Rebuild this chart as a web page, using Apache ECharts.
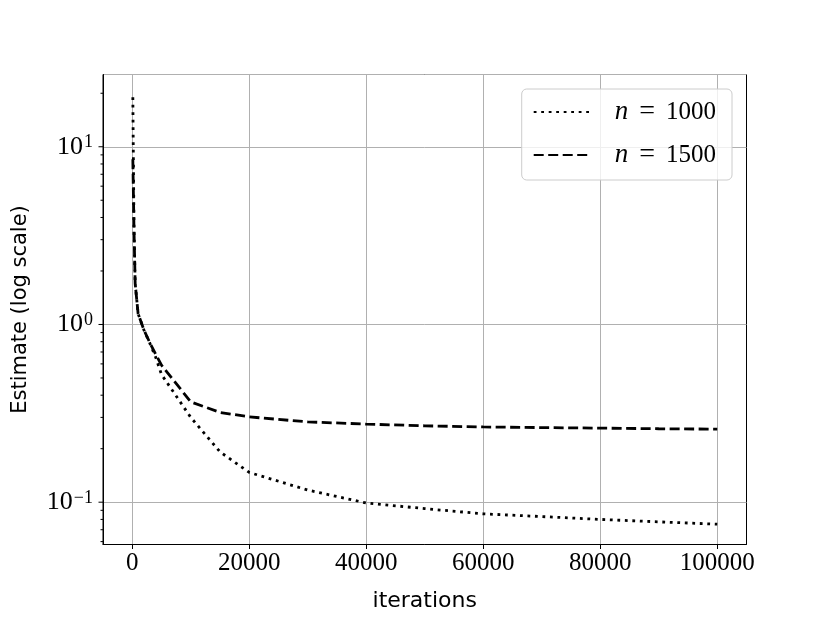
<!DOCTYPE html>
<html>
<head>
<meta charset="utf-8">
<script src="https://cdn.jsdelivr.net/npm/echarts@6/dist/echarts.min.js"></script>
<style>
  html, body { margin: 0; padding: 0; background: #fff; }
  #chart { width: 830px; height: 623px; }
</style>
</head>
<body>
<div id="chart"></div>
<script>
// values
const iterations = [100, 300, 500, 1000, 2000, 3000, 4000, 5000, 10000, 15000, 20000, 30000, 40000, 50000, 60000, 70000, 80000, 90000, 100000];
const estN1000 = [19.0, 3.4, 1.7, 1.15, 0.93, 0.785, 0.655, 0.523, 0.30, 0.192, 0.147, 0.117, 0.099, 0.092, 0.086, 0.083, 0.080, 0.0775, 0.0752];
const estN1500 = [8.5, 3.4, 1.7, 1.15, 0.93, 0.79, 0.68, 0.59, 0.367, 0.32, 0.302, 0.283, 0.275, 0.269, 0.265, 0.263, 0.261, 0.259, 0.2576];
const seriesNames = ['n = 1000', 'n = 1500'];
const xTicks = [0, 20000, 40000, 60000, 80000, 100000];
const yMajorTicks = [0.1, 1, 10];
const yMinorTicks = [0.06, 0.07, 0.08, 0.09, 0.2, 0.3, 0.4, 0.5, 0.6, 0.7, 0.8, 0.9, 2, 3, 4, 5, 6, 7, 8, 9, 20];

const X_MIN = -5000, X_MAX = 105000;
const Y_MIN = 0.0578, Y_MAX = 25.5;

const serif = 'Liberation Serif';
const sans = 'DejaVu Sans';

let chart = echarts.init(document.getElementById('chart'));

function pairs(ys) {
    return iterations.map(function (x, i) { return [x, ys[i]]; });
}

// y ticks (major + the little ones between decades), drawn at the left edge
let yTickData = yMajorTicks.map(function (v) { return [X_MIN, v, 4.5]; })
    .concat(yMinorTicks.map(function (v) { return [X_MIN, v, 2.5]; }));

const renderYTick = (params, api) => {
    let p = api.coord([X_MIN, api.value(1)]);
    let len = api.value(2);
    return {
        type: 'line',
        shape: { x1: p[0] - len, y1: p[1], x2: p[0], y2: p[1] },
        style: { stroke: '#000', lineWidth: 1 }
    };
};

let option = {
    animation: false,
    backgroundColor: '#fff',
    grid: {
        left: 103,
        right: 83.5,
        top: 74.5,
        bottom: 78.5,
        show: true,
        borderColor: '#000',
        borderWidth: 1,
        backgroundColor: 'transparent'
    },
    legend: {
        data: seriesNames,
        orient: 'vertical',
        right: 98,
        top: 89,
        padding: [9, 16, 11, 11],
        itemGap: 15,
        itemWidth: 57,
        itemHeight: 25,
        itemStyle: { opacity: 0 },
        backgroundColor: 'rgba(255,255,255,0.8)',
        borderColor: '#cccccc',
        borderWidth: 1,
        borderRadius: 5,
        formatter: function (name) {
            return '{i|n}{eq|=}' + name.split('= ')[1];
        },
        textStyle: {
            fontFamily: serif,
            fontSize: 25,
            color: '#000',
            padding: [0, 0, 0, 19],
            rich: {
                i: { fontFamily: serif, fontStyle: 'italic', fontSize: 27, color: '#000' },
                eq: { fontFamily: serif, fontSize: 28, color: '#000', padding: [0, 11, 0, 11] }
            }
        }
    },
    xAxis: {
        type: 'value',
        min: X_MIN,
        max: X_MAX,
        splitNumber: 5,
        name: 'iterations',
        nameLocation: 'middle',
        nameGap: 46,
        nameTextStyle: { fontFamily: sans, fontSize: 22, color: '#000' },
        axisLine: { show: true, onZero: false, lineStyle: { color: '#000', width: 1 } },
        axisTick: { show: true, length: 4.5, customValues: xTicks, lineStyle: { color: '#000', width: 1 } },
        axisLabel: {
            margin: 6,
            customValues: xTicks,
            fontFamily: serif,
            fontSize: 25,
            color: '#000',
            formatter: function (v) {
                return xTicks.indexOf(v) >= 0 ? String(v) : '';
            }
        },
        splitLine: { show: true, lineStyle: { color: '#b0b0b0', width: 1 } }
    },
    yAxis: {
        type: 'log',
        logBase: 10,
        min: Y_MIN,
        max: Y_MAX,
        name: 'Estimate (log scale)',
        nameLocation: 'middle',
        nameGap: 72,
        nameTextStyle: { fontFamily: sans, fontSize: 21, color: '#000' },
        axisLine: { show: true, onZero: false, lineStyle: { color: '#000', width: 1 } },
        axisTick: { show: false },
        axisLabel: {
            margin: 10,
            color: '#000',
            formatter: function (v) {
                let e = Math.log10(v);
                if (Math.abs(e - Math.round(e)) > 1e-6) return '';
                let k = Math.round(e);
                return '{b|10}{s|' + (k < 0 ? '\u2212' + (-k) : k) + '}';
            },
            rich: {
                b: { fontFamily: serif, fontSize: 26, color: '#000' },
                s: { fontFamily: serif, fontSize: 18, color: '#000', verticalAlign: 'top', padding: [0, 0, 8, 1] }
            }
        },
        splitLine: { show: true, lineStyle: { color: '#b0b0b0', width: 1 } }
    },
    series: [
        {
            name: seriesNames[0],
            type: 'line',
            data: pairs(estN1000),
            symbol: 'none',
            lineStyle: { color: '#000', width: 2.8, type: [2.8, 4.7] },
            itemStyle: { color: '#000' },
            z: 3
        },
        {
            name: seriesNames[1],
            type: 'line',
            data: pairs(estN1500),
            symbol: 'none',
            lineStyle: { color: '#000', width: 2.8, type: [10, 4.5] },
            itemStyle: { color: '#000' },
            z: 3
        },
        {
            name: 'yTicks',
            type: 'custom',
            renderItem: renderYTick,
            clip: false,
            silent: true,
            encode: { x: 0, y: 1 },
            data: yTickData,
            z: 1
        }
    ]
};

if (option && typeof option === 'object') {
    chart.setOption(option, true);
}
</script>
</body>
</html>
